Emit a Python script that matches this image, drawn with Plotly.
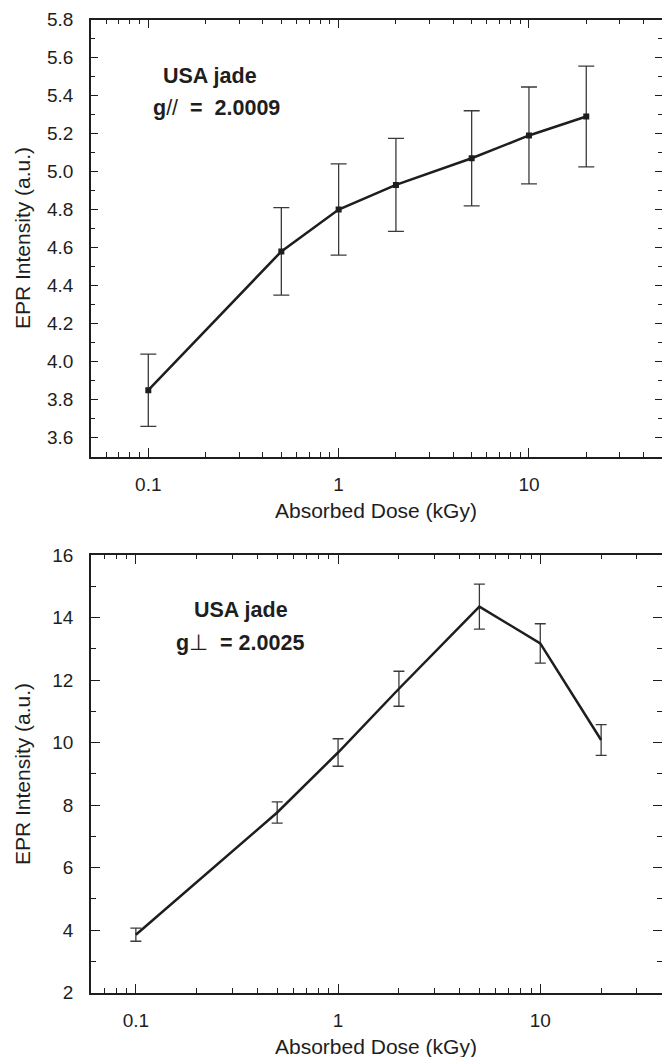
import numpy as np
import plotly.graph_objects as go

# Absorbed dose (kGy) for both series
dose = [0.1, 0.5, 1, 2, 5, 10, 20]

# Parallel component, g// = 2.0009
epr_par = [3.85, 4.58, 4.80, 4.93, 5.07, 5.19, 5.29]
err_par = [0.19, 0.23, 0.24, 0.245, 0.25, 0.255, 0.265]

# Perpendicular component, g⊥ = 2.0025
epr_perp = [3.85, 7.76, 9.68, 11.72, 14.35, 13.17, 10.08]
err_perp = [0.21, 0.34, 0.44, 0.56, 0.72, 0.63, 0.49]

x_tickvals = [0.1, 1, 10]
x_ticktext = ["0.1", "1", "10"]

W, H = 662, 1057
ML = 91
FONT = "Liberation Sans, Arial, Helvetica, sans-serif"
INK = "#1e1e1e"


def px(xp):
    return (xp - ML) / (W - ML)


def py(yp):
    return 1 - yp / H


top_dom = [py(456.7), py(19.5)]
bot_dom = [py(992.5), py(555.0)]

fig = go.Figure()

fig.add_trace(go.Scatter(
    x=dose, y=epr_par, mode="lines+markers",
    line=dict(color=INK, width=2.5),
    marker=dict(symbol="square", size=6, color=INK),
    error_y=dict(type="data", array=err_par, visible=True,
                 color="#3a3a3a", thickness=1.3, width=8),
    xaxis="x", yaxis="y", showlegend=False,
))

fig.add_trace(go.Scatter(
    x=dose, y=epr_perp, mode="lines",
    line=dict(color=INK, width=2.5),
    error_y=dict(type="data", array=err_perp, visible=True,
                 color="#3a3a3a", thickness=1.3, width=5.5),
    xaxis="x2", yaxis="y2", showlegend=False,
))

# empty traces that carry the right-hand tick axes
fig.add_trace(go.Scatter(x=[], y=[], xaxis="x", yaxis="y3", showlegend=False))
fig.add_trace(go.Scatter(x=[], y=[], xaxis="x2", yaxis="y4", showlegend=False))

tickfont = dict(family=FONT, size=19, color=INK)


def xaxis_cfg(rng, anchor):
    return dict(
        type="log", range=rng, domain=[0, 1], anchor=anchor,
        tickvals=x_tickvals, ticktext=x_ticktext,
        ticks="inside", ticklen=9, tickwidth=1.2, tickcolor=INK,
        minor=dict(ticks="inside", ticklen=4.5, tickwidth=1.1,
                   tickcolor=INK, dtick="D1", showgrid=False),
        showline=True, linewidth=1.5, linecolor=INK, mirror="ticks",
        showgrid=False, zeroline=False, tickfont=tickfont,
        ticklabelstandoff=10,
    )


def yaxis_cfg(rng, dom, anchor, dtick, mdtick, fmt, major_len, minor_len):
    return dict(
        range=rng, domain=dom, anchor=anchor,
        dtick=dtick, tick0=0, tickformat=fmt,
        ticks="inside", ticklen=major_len, tickwidth=1.2, tickcolor=INK,
        minor=dict(ticks="inside", ticklen=minor_len, tickwidth=1.1,
                   tickcolor=INK, dtick=mdtick, showgrid=False),
        showline=True, linewidth=1.5, linecolor=INK,
        showgrid=False, zeroline=False, tickfont=tickfont,
        ticklabelstandoff=12,
    )


def yright_cfg(rng, overlay, dtick, mdtick, major_len, minor_len):
    return dict(
        range=rng, overlaying=overlay, side="right", anchor="free",
        position=1, dtick=dtick, tick0=0,
        ticks="inside", ticklen=major_len, tickwidth=1.2, tickcolor=INK,
        minor=dict(ticks="inside", ticklen=minor_len, tickwidth=1.1,
                   tickcolor=INK, dtick=mdtick, showgrid=False),
        showline=False, showgrid=False, zeroline=False,
        showticklabels=False,
    )


fig.update_layout(
    width=W, height=H,
    margin=dict(l=ML, r=0, t=0, b=0, autoexpand=False),
    paper_bgcolor="white", plot_bgcolor="white",
    font=dict(family=FONT, color=INK),
    xaxis=xaxis_cfg([np.log10(0.05), np.log10(50)], "y"),
    yaxis=yaxis_cfg([3.5, 5.8], top_dom, "x", 0.2, 0.1, ".1f", 7, 4),
    yaxis3=yright_cfg([3.5, 5.8], "y", 0.2, 0.1, 7, 4),
    xaxis2=xaxis_cfg([np.log10(0.06), np.log10(40)], "y2"),
    yaxis2=yaxis_cfg([2, 16], bot_dom, "x2", 2, 1, "d", 9, 5),
    yaxis4=yright_cfg([2, 16], "y2", 2, 1, 9, 5),
)

title_font = dict(family=FONT, size=21, color=INK)
label_font = dict(family=FONT, size=21.5, color=INK)

annotations = [
    # axis titles
    dict(text="Absorbed Dose (kGy)", x=px(376), y=py(510.5), font=title_font),
    dict(text="Absorbed Dose (kGy)", x=px(376), y=py(1046), font=title_font),
    dict(text="EPR Intensity (a.u.)", x=px(22), y=py(238), textangle=-90,
         font=title_font),
    dict(text="EPR Intensity (a.u.)", x=px(22), y=py(774), textangle=-90,
         font=title_font),
    # sample labels
    dict(text="<b>USA jade</b>", x=px(210), y=py(76), font=label_font),
    dict(text="<b>g</b>//\u00a0\u00a0<b>=\u00a0\u00a02.0009</b>", x=px(216),
         y=py(108), font=label_font),
    dict(text="<b>USA jade</b>", x=px(241), y=py(610), font=label_font),
    dict(text="<b>g</b>\u22a5\u00a0\u00a0<b>= 2.0025</b>", x=px(240),
         y=py(643), font=label_font),
]
for a in annotations:
    a.update(xref="paper", yref="paper", showarrow=False,
             xanchor="center", yanchor="middle")
fig.update_layout(annotations=annotations)

fig.write_html("out.html")
